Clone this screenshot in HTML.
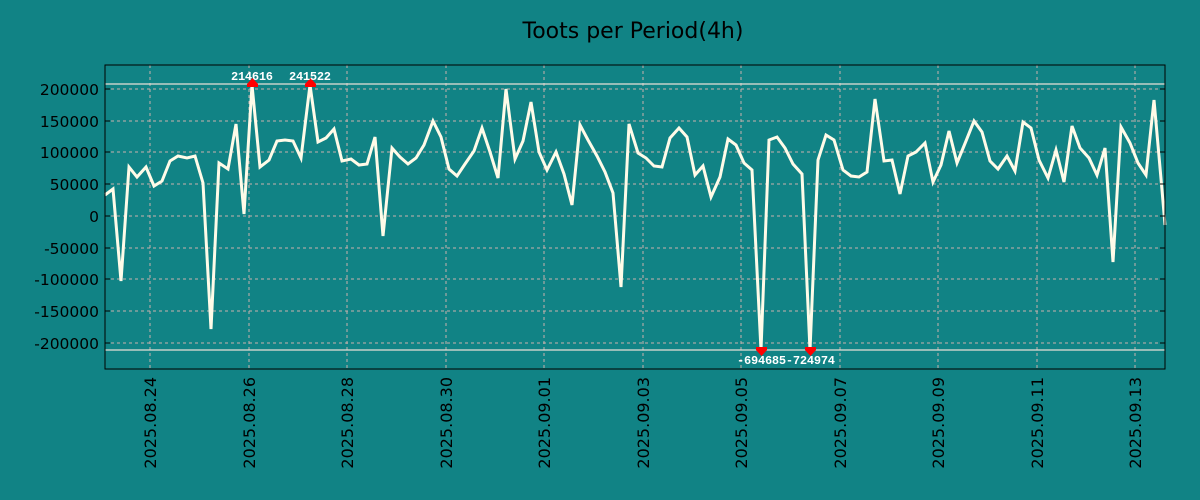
<!DOCTYPE html>
<html><head><style>
html,body{margin:0;padding:0;background:#118385;}
svg{display:block;font-family:"DejaVu Sans","Liberation Sans",sans-serif;}
</style></head><body>
<svg width="1200" height="500" viewBox="0 0 1200 500">
<rect width="1200" height="500" fill="#118385"/>
<text x="633" y="38" font-size="22" text-anchor="middle" fill="#000">Toots per Period(4h)</text>
<g stroke="#c9b0ad" stroke-width="1" stroke-dasharray="3,3">
<line x1="105" x2="1165" y1="89" y2="89"/><line x1="105" x2="1165" y1="121" y2="121"/>
<line x1="105" x2="1165" y1="152" y2="152"/><line x1="105" x2="1165" y1="184" y2="184"/>
<line x1="105" x2="1165" y1="216" y2="216"/><line x1="105" x2="1165" y1="248" y2="248"/>
<line x1="105" x2="1165" y1="279" y2="279"/><line x1="105" x2="1165" y1="311" y2="311"/>
<line x1="105" x2="1165" y1="343" y2="343"/>
<line x1="150" x2="150" y1="65" y2="369"/><line x1="249" x2="249" y1="65" y2="369"/>
<line x1="347" x2="347" y1="65" y2="369"/><line x1="446" x2="446" y1="65" y2="369"/>
<line x1="544" x2="544" y1="65" y2="369"/><line x1="643" x2="643" y1="65" y2="369"/>
<line x1="741" x2="741" y1="65" y2="369"/><line x1="840" x2="840" y1="65" y2="369"/>
<line x1="938" x2="938" y1="65" y2="369"/><line x1="1037" x2="1037" y1="65" y2="369"/>
<line x1="1135" x2="1135" y1="65" y2="369"/>
</g>
<line x1="105" x2="1165" y1="84" y2="84" stroke="#e8e0d8" stroke-width="1.2"/>
<line x1="105" x2="1165" y1="350" y2="350" stroke="#e8e0d8" stroke-width="1.2"/>
<polyline fill="none" stroke="#fffbe8" stroke-width="3" stroke-linejoin="miter" points="105,195 113,189 121,281 129,167 137,177 146,167 154,186 162,181 170,161 178,156 187,158 195,156 203,183 211,329 219,163 228,169 236,124 244,214 252,85 260,167 269,160 277,141 285,140 293,141 301,158 310,85 318,142 326,138 334,129 342,161 351,159 359,165 367,164 375,137 383,236 392,148 400,157 408,164 416,158 424,145 433,121 441,137 449,169 457,176 465,164 474,151 482,128 490,152 498,178 506,89 515,159 523,141 531,102 539,152 547,170 556,152 564,174 572,205 580,125 588,140 597,156 605,172 613,193 621,287 629,124 638,153 646,158 654,166 662,167 670,138 679,128 687,137 695,175 703,166 711,197 720,177 728,139 736,145 744,163 752,170 761,350 769,140 777,137 785,148 793,164 802,174 810,350 818,160 826,135 834,140 843,170 851,176 859,177 867,172 875,99 884,161 892,160 900,194 908,156 916,152 925,143 933,182 941,165 949,131 957,163 966,141 974,121 982,132 990,161 998,169 1007,156 1015,171 1023,122 1031,128 1039,160 1048,178 1056,150 1064,182 1072,126 1080,148 1089,158 1097,175 1105,148 1113,262 1121,127 1130,143 1138,163 1146,175 1154,100 1162,190 1165,225"/>
<g fill="#ff0000">
<rect x="247" y="84" width="11" height="3"/><polygon points="247,84 258,84 252.5,78"/>
<rect x="305" y="84" width="11" height="3"/><polygon points="305,84 316,84 310.5,78"/>
<rect x="756" y="347" width="11" height="3"/><polygon points="756,350 767,350 761.5,356"/>
<rect x="805" y="347" width="11" height="3"/><polygon points="805,350 816,350 810.5,356"/>
</g>
<g font-size="12" font-weight="bold" fill="#fff" font-family="'Liberation Mono','DejaVu Sans Mono',monospace">
<text x="252" y="80" text-anchor="middle" textLength="42">214616</text>
<text x="310" y="80" text-anchor="middle" textLength="42">241522</text>
<text x="786" y="364" text-anchor="middle" textLength="98">-694685-724974</text>
</g>
<rect x="105" y="65" width="1060" height="304" fill="none" stroke="#000" stroke-width="1"/>
<g stroke="#000" stroke-width="1">
<line x1="105" x2="110" y1="89" y2="89"/><line x1="105" x2="110" y1="121" y2="121"/><line x1="105" x2="110" y1="152" y2="152"/><line x1="105" x2="110" y1="184" y2="184"/><line x1="105" x2="110" y1="216" y2="216"/><line x1="105" x2="110" y1="248" y2="248"/><line x1="105" x2="110" y1="279" y2="279"/><line x1="105" x2="110" y1="311" y2="311"/><line x1="105" x2="110" y1="343" y2="343"/>
<line x1="1160" x2="1165" y1="89" y2="89"/><line x1="1160" x2="1165" y1="121" y2="121"/><line x1="1160" x2="1165" y1="152" y2="152"/><line x1="1160" x2="1165" y1="184" y2="184"/><line x1="1160" x2="1165" y1="216" y2="216"/><line x1="1160" x2="1165" y1="248" y2="248"/><line x1="1160" x2="1165" y1="279" y2="279"/><line x1="1160" x2="1165" y1="311" y2="311"/><line x1="1160" x2="1165" y1="343" y2="343"/>
</g>
<g font-size="15.5" fill="#000" text-anchor="end">
<text x="99" y="95">200000</text><text x="99" y="127">150000</text><text x="99" y="158">100000</text><text x="99" y="190">50000</text><text x="99" y="222">0</text><text x="99" y="254">-50000</text><text x="99" y="285">-100000</text><text x="99" y="317">-150000</text><text x="99" y="349">-200000</text>
</g>
<g font-size="16" fill="#000" text-anchor="end">
<text transform="translate(156,377) rotate(-90)">2025.08.24</text>
<text transform="translate(255,377) rotate(-90)">2025.08.26</text>
<text transform="translate(353,377) rotate(-90)">2025.08.28</text>
<text transform="translate(452,377) rotate(-90)">2025.08.30</text>
<text transform="translate(550,377) rotate(-90)">2025.09.01</text>
<text transform="translate(649,377) rotate(-90)">2025.09.03</text>
<text transform="translate(747,377) rotate(-90)">2025.09.05</text>
<text transform="translate(846,377) rotate(-90)">2025.09.07</text>
<text transform="translate(944,377) rotate(-90)">2025.09.09</text>
<text transform="translate(1043,377) rotate(-90)">2025.09.11</text>
<text transform="translate(1141,377) rotate(-90)">2025.09.13</text>
</g>
</svg>
</body></html>
